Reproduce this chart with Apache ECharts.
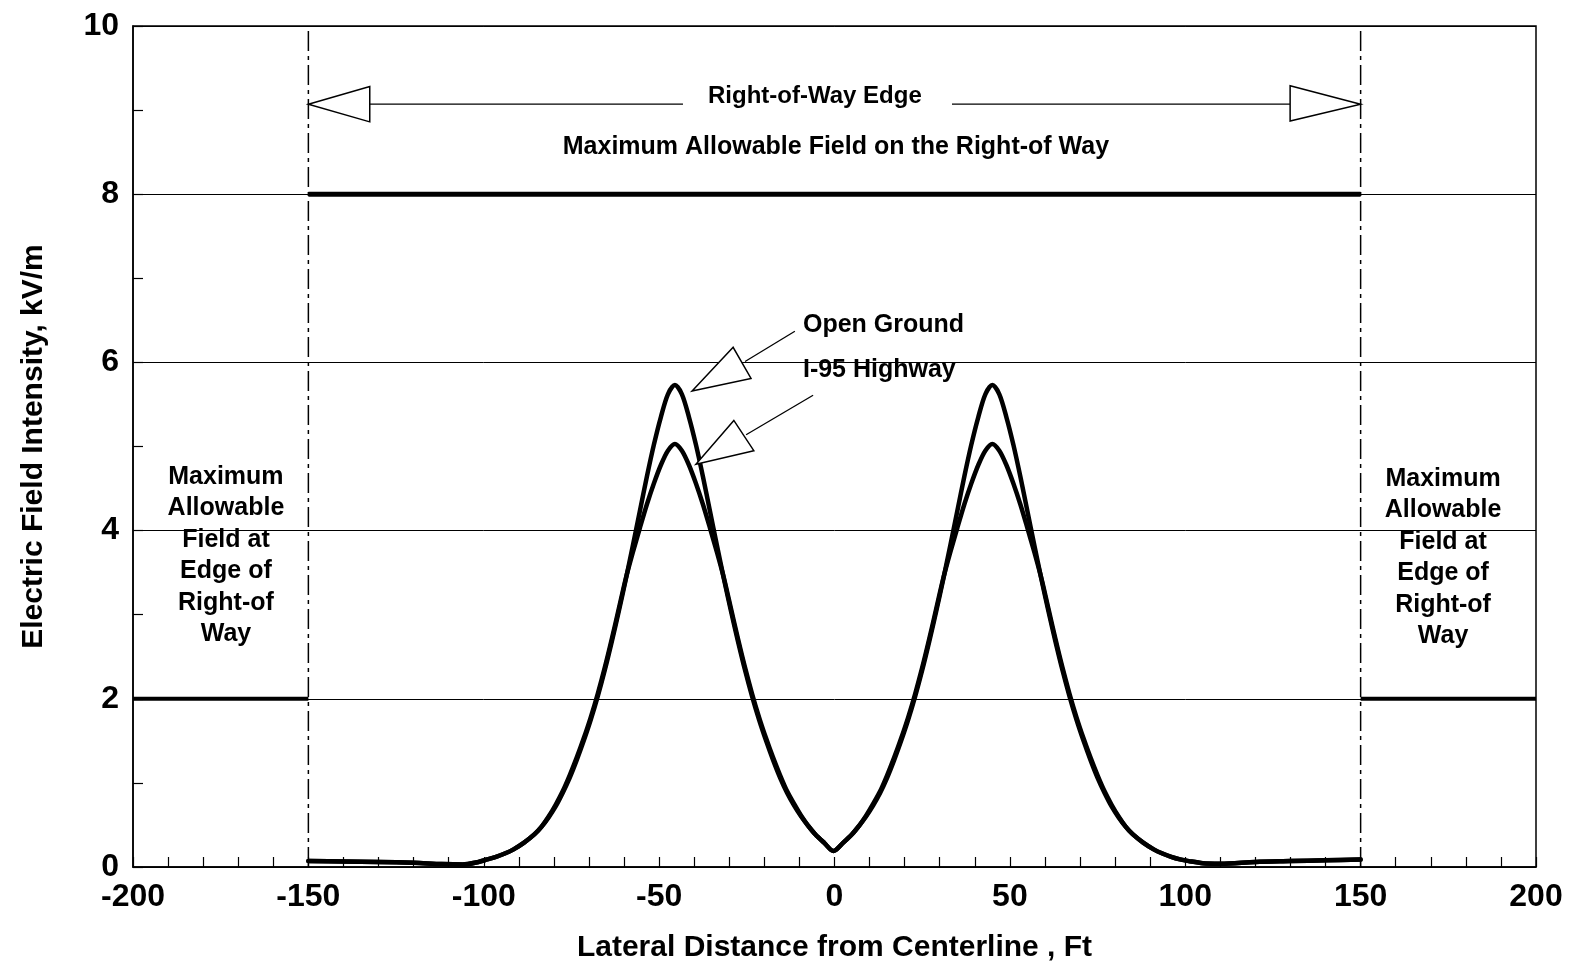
<!DOCTYPE html>
<html><head><meta charset="utf-8">
<script src="https://cdn.jsdelivr.net/npm/echarts@6/dist/echarts.min.js"></script>
<style>html,body{margin:0;padding:0;background:#fff}#c{width:1571px;height:968px}</style>
</head><body><div id="c"></div>
<script>
// ---- data (ft, kV/m) ----
const distance = [-150,-140,-130,-120,-112,-106,-101.5,-99,-96.5,-94,-91.5,-88.5,-85.5,-83.5,-81.5,-79.5,-77.5,-75.5,-73.5,-71.5,-69.5,-67.5,-65.5,-63.5,-61.5,-59.5,-57.5,-55.5,-53.5,-51.5,-49.5,-47.5,-45.5,-43.5,-41.5,-39.5,-37.5,-35.5,-33.5,-31.5,-29.5,-27.5,-25.5,-23.5,-21.5,-19.5,-17.5,-15.5,-13.5,-11.5,-9.5,-7.5,-5.5,-3,-0.3,2.5,5,7,9,11,13,15,17,19,21,23,25,27,29,31,33,35,37,39,41,43,45,47,49,51,53,55,57,59,61,63,65,67,69,71,73,75,77,79,81,83,85,88,91,93.5,96,98.5,101,105,110,120,130,140,150];
const openGround = [0.07,0.065,0.06,0.05,0.035,0.03,0.06,0.09,0.12,0.16,0.21,0.29,0.39,0.48,0.59,0.72,0.88,1.06,1.27,1.5,1.75,2.03,2.34,2.68,3.04,3.42,3.82,4.23,4.64,5.02,5.35,5.62,5.73,5.62,5.35,5.02,4.64,4.23,3.82,3.42,3.04,2.68,2.34,2.03,1.75,1.5,1.27,1.06,0.88,0.73,0.6,0.49,0.39,0.29,0.19,0.29,0.39,0.49,0.6,0.73,0.88,1.06,1.27,1.5,1.75,2.03,2.34,2.68,3.04,3.42,3.82,4.23,4.64,5.02,5.35,5.62,5.73,5.62,5.35,5.02,4.64,4.23,3.82,3.42,3.04,2.68,2.34,2.03,1.75,1.5,1.27,1.06,0.88,0.72,0.59,0.48,0.39,0.29,0.21,0.16,0.12,0.09,0.07,0.045,0.04,0.06,0.07,0.08,0.09];
const i95Highway = [0.07,0.065,0.06,0.05,0.035,0.03,0.06,0.09,0.12,0.16,0.21,0.29,0.39,0.48,0.6,0.74,0.9,1.09,1.3,1.53,1.78,2.06,2.37,2.71,3.07,3.43,3.74,4.03,4.31,4.56,4.78,4.95,5.03,4.95,4.78,4.56,4.31,4.03,3.74,3.43,3.07,2.71,2.37,2.06,1.78,1.53,1.3,1.09,0.9,0.75,0.61,0.49,0.39,0.29,0.19,0.29,0.39,0.49,0.61,0.75,0.9,1.09,1.3,1.53,1.78,2.06,2.37,2.71,3.07,3.43,3.74,4.03,4.31,4.56,4.78,4.95,5.03,4.95,4.78,4.56,4.31,4.03,3.74,3.43,3.07,2.71,2.37,2.06,1.78,1.53,1.3,1.09,0.9,0.74,0.6,0.48,0.39,0.29,0.21,0.16,0.12,0.09,0.07,0.045,0.04,0.06,0.07,0.08,0.09];
const rowEdges = [-150, 150];
const rowLimit = 8;        // max allowable field on right-of-way
const edgeLimit = 2;       // max allowable field at edge of right-of-way
const xRange = [-200, 200];
const yRange = [0, 10];

// ---- annotation geometry (data units) ----
const rowArrowY = 9.07;
const rowArrowLines = [[[-132.5, rowArrowY], [-43.2, rowArrowY]], [[33.5, rowArrowY], [129.9, rowArrowY]]];
const rowArrowHeads = [
  [[-150, 9.07], [-132.5, 9.28], [-132.5, 8.86]],
  [[150, 9.07], [129.9, 9.29], [129.9, 8.87]]
];
const calloutLines = [[[-11.3, 6.37], [-25.5, 6.01]], [[-6.1, 5.61], [-25.2, 5.14]]];
const calloutHeads = [
  [[-40.6, 5.66], [-28.9, 6.18], [-23.8, 5.81]],
  [[-39.5, 4.79], [-28.7, 5.31], [-23.0, 4.95]]
];
const labels = [
  {text: 'Right-of-Way Edge', pos: [-5.6, 9.16], size: 24, align: 'center'},
  {text: 'Maximum Allowable Field on the Right-of Way', pos: [0.4, 8.56], size: 25, align: 'center'},
  {text: 'Open Ground', pos: [-9.0, 6.44], size: 25, align: 'left'},
  {text: 'I-95 Highway', pos: [-9.0, 5.91], size: 25, align: 'left'},
  {text: 'Maximum\nAllowable\nField at\nEdge of\nRight-of\nWay', pos: [-173.5, 3.70], size: 25, align: 'center'},
  {text: 'Maximum\nAllowable\nField at\nEdge of\nRight-of\nWay', pos: [173.5, 3.68], size: 25, align: 'center'}
];

const FONT = '"Liberation Sans", Arial, sans-serif';
const chart = echarts.init(document.getElementById('c'));
const pairs = arr => distance.map((x, i) => [x, arr[i]]);
const blackLine = w => ({color: '#000', width: w});

chart.setOption({
  animation: false,
  backgroundColor: '#fff',
  grid: {left: 133, right: 35, top: 26, bottom: 97, show: true, borderColor: '#000', borderWidth: 1.5},
  xAxis: {
    type: 'value', min: xRange[0], max: xRange[1], interval: 50,
    name: 'Lateral Distance from Centerline , Ft', nameLocation: 'middle', nameGap: 66,
    nameTextStyle: {fontFamily: FONT, fontWeight: 'bold', fontSize: 30, color: '#000'},
    axisLine: {show: true, onZero: false, lineStyle: blackLine(1.5)},
    axisTick: {show: true, inside: true, length: 10, lineStyle: blackLine(1.2)},
    minorTick: {show: true, splitNumber: 5, length: 10, lineStyle: blackLine(1.2)},
    axisLabel: {fontFamily: FONT, fontWeight: 'bold', fontSize: 32, color: '#000', margin: 14},
    splitLine: {show: false}
  },
  yAxis: {
    type: 'value', min: yRange[0], max: yRange[1], interval: 2,
    name: 'Electric Field Intensity, kV/m', nameLocation: 'middle', nameGap: 84,
    nameTextStyle: {fontFamily: FONT, fontWeight: 'bold', fontSize: 30, color: '#000'},
    axisLine: {show: true, onZero: false, lineStyle: blackLine(1.5)},
    axisTick: {show: true, inside: true, length: 10, lineStyle: blackLine(1.2)},
    minorTick: {show: true, splitNumber: 2, length: 10, lineStyle: blackLine(1.2)},
    axisLabel: {fontFamily: FONT, fontWeight: 'bold', fontSize: 32, color: '#000', margin: 14},
    splitLine: {show: true, lineStyle: blackLine(1)}
  },
  series: [
    {name: 'Open Ground', type: 'line', data: pairs(openGround), smooth: 0.3, showSymbol: false, symbol: 'none',
     lineStyle: {color: '#000', width: 4.5, cap: 'round', join: 'round'}},
    {name: 'I-95 Highway', type: 'line', data: pairs(i95Highway), smooth: 0.3, showSymbol: false, symbol: 'none',
     lineStyle: {color: '#000', width: 4.5, cap: 'round', join: 'round'}},
    {name: 'ROW limit', type: 'line', data: [[rowEdges[0], rowLimit], [rowEdges[1], rowLimit]], symbol: 'none',
     lineStyle: {color: '#000', width: 5}},
    {name: 'Edge limit L', type: 'line', data: [[xRange[0], edgeLimit], [rowEdges[0], edgeLimit]], symbol: 'none',
     lineStyle: {color: '#000', width: 4}},
    {name: 'Edge limit R', type: 'line', data: [[rowEdges[1], edgeLimit], [xRange[1], edgeLimit]], symbol: 'none',
     lineStyle: {color: '#000', width: 4}},
    {name: 'ROW edge L', type: 'line', data: [[rowEdges[0], yRange[0]], [rowEdges[0], yRange[1]]], symbol: 'none',
     lineStyle: {color: '#000', width: 1.5, type: [20, 5, 4, 5]}},
    {name: 'ROW edge R', type: 'line', data: [[rowEdges[1], yRange[0]], [rowEdges[1], yRange[1]]], symbol: 'none',
     lineStyle: {color: '#000', width: 1.5, type: [20, 5, 4, 5]}}
  ]
});

const px = p => chart.convertToPixel({gridIndex: 0}, p);
const graphics = [];
rowArrowLines.concat(calloutLines).forEach(seg => {
  graphics.push({type: 'polyline', shape: {points: seg.map(px)}, style: {stroke: '#000', lineWidth: 1.3}, z: 10});
});
rowArrowHeads.concat(calloutHeads).forEach(tri => {
  graphics.push({type: 'polygon', shape: {points: tri.map(px)}, style: {fill: '#fff', stroke: '#000', lineWidth: 1.5}, z: 11});
});
labels.forEach(l => {
  const p = px(l.pos);
  graphics.push({type: 'text', x: p[0], y: p[1], z: 12, style: {
    text: l.text, fill: '#000', align: l.align, verticalAlign: 'middle',
    font: 'bold ' + l.size + 'px ' + FONT, lineHeight: 31.5
  }});
});
chart.setOption({graphic: graphics});
</script>
</body></html>
